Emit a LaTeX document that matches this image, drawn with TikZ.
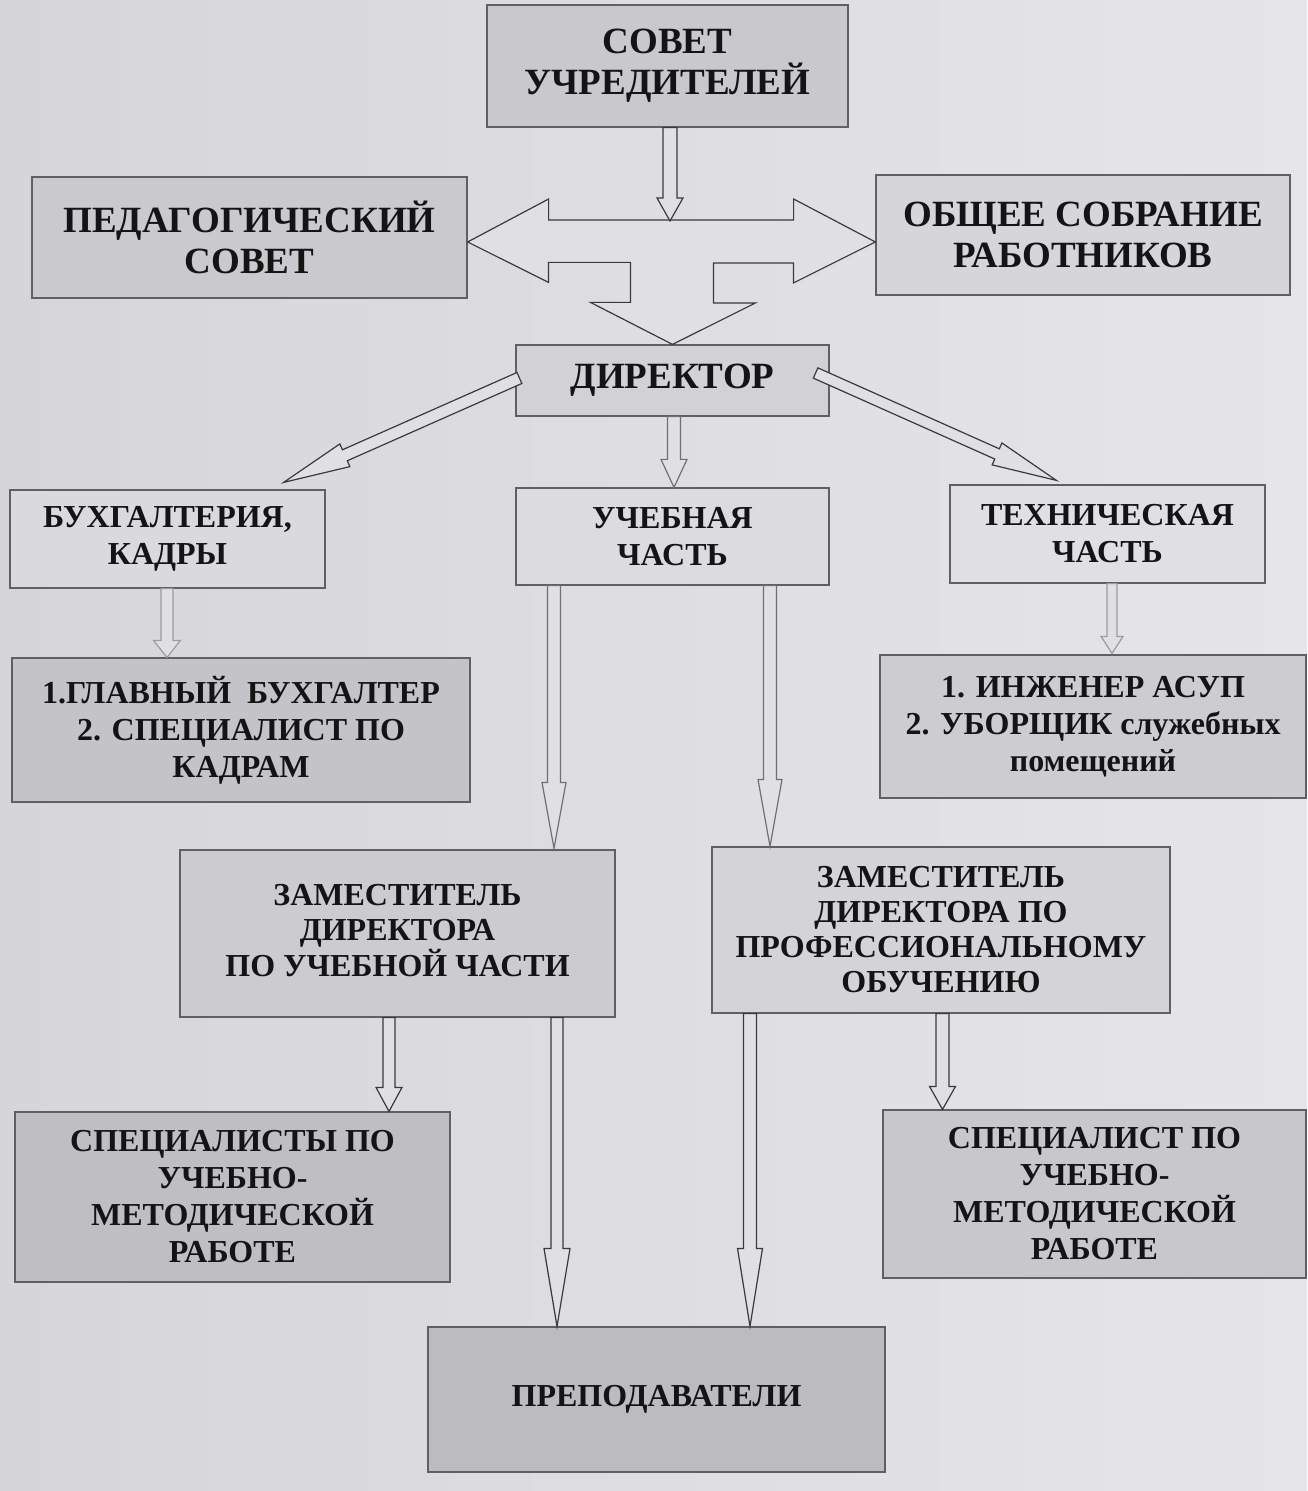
\documentclass[tikz,border=0pt]{standalone}
\usepackage{fontspec}
\setmainfont{Liberation Serif}
\usetikzlibrary{calc}
\definecolor{bgL}{HTML}{D6D6DA}
\definecolor{bgR}{HTML}{E6E6EA}
\definecolor{afill}{HTML}{E0E0E4}
\definecolor{edge}{HTML}{606064}
\definecolor{adark}{HTML}{3A3A3E}
\definecolor{amid}{HTML}{707074}
\definecolor{alight}{HTML}{9C9CA0}
\definecolor{txt}{HTML}{141414}
\tikzset{
  box/.style={draw=edge, line width=0.6pt, inner sep=0pt, align=center, text=txt,
    font=\bfseries\fontsize{16}{18.5}\selectfont},
  bigtext/.style={font=\bfseries\fontsize{18.5}{20.5}\selectfont},
  barr/.style n args={3}{fill=afill, line width=0.6pt, line join=miter, to path={
    ($(\tikztotarget)!#3!(\tikztostart)$) coordinate (bah)
    ($(\tikztostart)!#1!90:(\tikztotarget)$) -- ($(bah)!#1!90:(\tikztotarget)$)
    -- ($(bah)!#2!90:(\tikztotarget)$) -- (\tikztotarget)
    -- ($(bah)!#2!-90:(\tikztotarget)$) -- ($(bah)!#1!-90:(\tikztotarget)$)
    -- ($(\tikztostart)!#1!-90:(\tikztotarget)$) -- cycle}}
}
\begin{document}
\begin{tikzpicture}[x=0.5pt,y=-0.5pt]
\useasboundingbox (0,0) rectangle (1307,1491);
\shade[left color=bgL, right color=bgR] (0,0) rectangle (1307,1491);

% boxes
\node[box, bigtext, fill={rgb,255:red,201;green,201;blue,205}, minimum width=180.5pt, minimum height=61pt] (sov) at (667.5,66) {СОВЕТ\\УЧРЕДИТЕЛЕЙ};
\node[box, bigtext, fill={rgb,255:red,202;green,202;blue,206}, minimum width=217.5pt, minimum height=60.5pt] (ped) at (249.5,237.5) {ПЕДАГОГИЧЕСКИЙ\\СОВЕТ};
\node[box, bigtext, fill={rgb,255:red,214;green,214;blue,218}, minimum width=207pt, minimum height=60pt] (obs) at (1083,235) {ОБЩЕЕ СОБРАНИЕ\\РАБОТНИКОВ};
\node[box, bigtext, fill={rgb,255:red,210;green,210;blue,214}, minimum width=156.5pt, minimum height=35.5pt] (dir) at (672.5,380.5) {ДИРЕКТОР};
\node[box, fill={rgb,255:red,218;green,218;blue,222}, minimum width=157.5pt, minimum height=49pt] (bux) at (167.5,539) {БУХГАЛТЕРИЯ,\\КАДРЫ};
\node[box, fill={rgb,255:red,220;green,220;blue,224}, minimum width=156.5pt, minimum height=48.5pt] (uch) at (672.5,536.5) {УЧЕБНАЯ\\ЧАСТЬ};
\node[box, fill={rgb,255:red,224;green,224;blue,228}, minimum width=157.5pt, minimum height=49pt] (tex) at (1107.5,534) {ТЕХНИЧЕСКАЯ\\ЧАСТЬ};
\node[box, fill={rgb,255:red,196;green,196;blue,200}, minimum width=229pt, minimum height=72pt] (glav) at (241,730) {1.ГЛАВНЫЙ\ \ БУХГАЛТЕР\\2. СПЕЦИАЛИСТ ПО\\КАДРАМ};
\node[box, fill={rgb,255:red,205;green,205;blue,209}, minimum width=213pt, minimum height=71.5pt] (inzh) at (1093,726.5) {1. ИНЖЕНЕР АСУП\\2. УБОРЩИК служебных\\помещений};
\node[box, fill={rgb,255:red,204;green,204;blue,208}, minimum width=217.5pt, minimum height=83.5pt] (zamu) at (397.5,933.5) {\raisebox{8.5pt}{\begin{tabular}{@{}c@{}}ЗАМЕСТИТЕЛЬ\\[-1pt]ДИРЕКТОРА\\[-1pt]ПО УЧЕБНОЙ ЧАСТИ\end{tabular}}};
\node[box, fill={rgb,255:red,212;green,212;blue,216}, minimum width=229pt, minimum height=83pt, font=\bfseries\fontsize{16}{17.5}\selectfont] (zamp) at (941,930) {ЗАМЕСТИТЕЛЬ\\ДИРЕКТОРА ПО\\ПРОФЕССИОНАЛЬНОМУ\\ОБУЧЕНИЮ};
\node[box, fill={rgb,255:red,191;green,191;blue,195}, minimum width=217.5pt, minimum height=85pt] (spu) at (232.5,1197) {СПЕЦИАЛИСТЫ ПО\\УЧЕБНО-\\МЕТОДИЧЕСКОЙ\\РАБОТЕ};
\node[box, fill={rgb,255:red,200;green,200;blue,204}, minimum width=211.5pt, minimum height=84pt] (spp) at (1094.5,1194) {СПЕЦИАЛИСТ ПО\\УЧЕБНО-\\МЕТОДИЧЕСКОЙ\\РАБОТЕ};
\node[box, fill={rgb,255:red,188;green,188;blue,192}, minimum width=228.5pt, minimum height=72.5pt] (prep) at (656.5,1399.5) {ПРЕПОДАВАТЕЛИ};

% junction block arrow (sov -> ped / obs / dir)
\coordinate (jc) at (672,242);
\coordinate (jtop) at (670,221);
\draw[draw=adark, fill=afill, line width=0.6pt, line join=miter]
  (ped.east |- jc) -- ++(81,-43) -- ++(0,21) -- ++(245,0) -- ++(0,-21)
  -- (obs.west |- jc) -- ++(-82,41) -- ++(0,-20) -- ++(-80,0) -- ++(0,40)
  -- ++(42,0) -- (dir.north) -- ++(-82,-42) -- ++(40,0) -- ++(0,-40)
  -- ++(-82,0) -- ++(0,20) -- cycle;

% block arrows
\draw[barr={3.5pt}{6.5pt}{11.5pt}, draw=adark] ($(sov.south)+(2.5,0)$) to (jtop);
\draw[barr={3.25pt}{6.5pt}{14pt}, draw=amid] ($(dir.south)+(1.5,0)$) to ($(uch.north)+(1.5,0)$);
\draw[barr={3pt}{6.2pt}{33.5pt}, draw=adark] ($(dir.west)+(4,-2.5)$) to ($(bux.north east)+(-42,-7)$);
\draw[barr={2.8pt}{6pt}{32.5pt}, draw=adark] ($(dir.east)+(-14,-7.5)$) to ($(tex.north west)+(107,-4)$);
\draw[barr={3pt}{6.75pt}{8.5pt}, draw=alight] ($(bux.south)+(-0.5,0)$) to ($(glav.north)+(-74,0)$);
\draw[barr={3.25pt}{6pt}{33pt}, draw=amid] ($(uch.south)+(-118.5,0)$) to ($(zamu.north)+(156.5,-1)$);
\draw[barr={3.25pt}{6pt}{33.5pt}, draw=amid] ($(uch.south)+(97.5,0)$) to ($(zamp.north)+(-171,0)$);
\draw[barr={2.5pt}{5.5pt}{8.5pt}, draw=alight] ($(tex.south)+(4.5,0)$) to ($(inzh.north)+(19,-1)$);
\draw[barr={3pt}{6.5pt}{12pt}, draw=adark] ($(zamu.south)+(-8.5,0)$) to ($(spu.north)+(156.5,0)$);
\draw[barr={3pt}{6.5pt}{39pt}, draw=adark] ($(zamu.south)+(159.5,0)$) to ($(prep.north)+(-99.5,0)$);
\draw[barr={3.25pt}{6.25pt}{39pt}, draw=adark] ($(zamp.south)+(-191,0)$) to ($(prep.north)+(93.5,0)$);
\draw[barr={3.25pt}{6.5pt}{11.5pt}, draw=adark] ($(zamp.south)+(1.5,0)$) to ($(spp.north)+(-152,0)$);
\end{tikzpicture}
\end{document}
